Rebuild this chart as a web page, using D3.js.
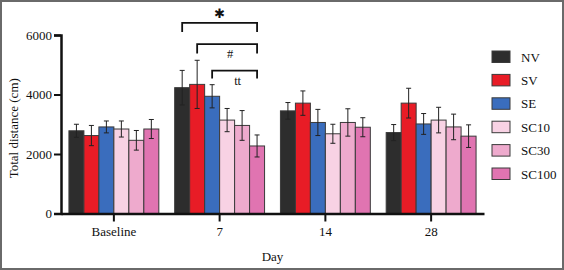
<html>
<head>
    <script src="https://d3js.org/d3.v7.min.js"></script>
    <style>
        body { margin: 0; background: #fff; }
        text { font-family: "Liberation Serif", "Times New Roman", serif; fill: #111; }
        .tick-label { font-size: 13px; }
        .axis-label { font-size: 13px; }
        .legend text { font-size: 13px; }
    </style>
</head>
<body>
    <svg id="chart"></svg>

    <script>
        const days = ["Baseline", "7", "14", "28"];
        const groups = ["NV", "SV", "SE", "SC10", "SC30", "SC100"];
        const colors = ["#2d2d2d", "#e81c26", "#3a6dbd", "#f8d2e4", "#eeaacd", "#e074b1"];

        // mean per group, one row per day
        const means = [
            [2780, 2620, 2910, 2840, 2460, 2840],
            [4230, 4340, 3940, 3140, 2960, 2270],
            [3450, 3710, 3060, 2680, 3060, 2900],
            [2720, 3710, 3010, 3140, 2910, 2600]
        ];
        const errors = [
            [220, 340, 200, 270, 330, 320],
            [580, 810, 390, 390, 500, 370],
            [280, 410, 440, 320, 460, 320],
            [270, 500, 350, 430, 430, 380]
        ];
        const yTicks = [0, 2000, 4000, 6000];

        // significance brackets on day 7: from group, to group, height, leg bottom, label
        const brackets = [
            { from: "NV", to: "SC100", top: 6410, leg: 6100, label: "\u2731" },
            { from: "SV", to: "SC100", top: 5690, leg: 5380, label: "#" },
            { from: "SE", to: "SC100", top: 4800, leg: 4540, label: "tt" }
        ];

        const W = 564, H = 270;
        const plot = { left: 61, right: 484, top: 35, bottom: 213.5 };

        const svg = d3.select("#chart")
            .attr("width", W)
            .attr("height", H);

        svg.append("rect")
            .attr("x", 1).attr("y", 1)
            .attr("width", W - 2).attr("height", H - 2)
            .attr("fill", "#fff")
            .attr("stroke", "#6a6a6a")
            .attr("stroke-width", 2);

        const x0 = d3.scaleBand()
            .domain(days)
            .range([plot.left, plot.right])
            .paddingInner(0.15)
            .paddingOuter(0.075);

        const x1 = d3.scaleBand()
            .domain(groups)
            .range([0, x0.bandwidth()]);

        const y = d3.scaleLinear()
            .domain([0, 6000])
            .range([plot.bottom, plot.top]);

        const color = d3.scaleOrdinal().domain(groups).range(colors);

        // bars
        const dayG = svg.selectAll(".day")
            .data(days)
            .enter()
            .append("g")
            .attr("class", "day")
            .attr("transform", d => `translate(${x0(d)},0)`);

        dayG.selectAll("rect")
            .data((d, i) => groups.map((g, j) => ({ g, v: means[i][j], e: errors[i][j] })))
            .enter()
            .append("rect")
            .attr("x", d => x1(d.g))
            .attr("y", d => y(d.v))
            .attr("width", x1.bandwidth())
            .attr("height", d => y(0) - y(d.v))
            .attr("fill", d => color(d.g))
            .attr("stroke", "#3a3a3a")
            .attr("stroke-width", 1);

        // error bars
        const err = dayG.selectAll(".err")
            .data((d, i) => groups.map((g, j) => ({ g, v: means[i][j], e: errors[i][j] })))
            .enter()
            .append("g")
            .attr("class", "err")
            .attr("stroke", "#222")
            .attr("stroke-width", 1);

        const cx = d => x1(d.g) + x1.bandwidth() / 2;
        err.append("line")
            .attr("x1", cx).attr("x2", cx)
            .attr("y1", d => y(d.v + d.e)).attr("y2", d => y(d.v - d.e));
        err.append("line")
            .attr("x1", d => cx(d) - 2.5).attr("x2", d => cx(d) + 2.5)
            .attr("y1", d => y(d.v + d.e)).attr("y2", d => y(d.v + d.e));
        err.append("line")
            .attr("x1", d => cx(d) - 2.5).attr("x2", d => cx(d) + 2.5)
            .attr("y1", d => y(d.v - d.e)).attr("y2", d => y(d.v - d.e));

        // axes
        const yAxis = svg.append("g")
            .attr("transform", `translate(${plot.left},0)`)
            .call(d3.axisLeft(y).tickValues(yTicks).tickSize(7).tickPadding(2).tickFormat(d3.format("d")));
        yAxis.select(".domain").attr("stroke", "#111").attr("stroke-width", 2.5);
        yAxis.selectAll(".tick line").attr("stroke", "#111").attr("stroke-width", 2);
        yAxis.selectAll(".tick text").attr("class", "tick-label").attr("fill", "#111")
            .style("font-family", "Liberation Serif, serif").style("font-size", "13px");

        const xAxis = svg.append("g")
            .attr("transform", `translate(0,${plot.bottom})`)
            .call(d3.axisBottom(x0).tickSize(8).tickSizeOuter(0).tickPadding(5));
        xAxis.select(".domain").attr("stroke", "#111").attr("stroke-width", 2.5);
        xAxis.selectAll(".tick line").attr("stroke", "#111").attr("stroke-width", 2);
        xAxis.selectAll(".tick text").attr("fill", "#111")
            .style("font-family", "Liberation Serif, serif").style("font-size", "13px");

        svg.append("text")
            .attr("class", "axis-label")
            .attr("text-anchor", "middle")
            .attr("transform", `translate(18,${(plot.top + plot.bottom) / 2 + 4})rotate(-90)`)
            .text("Total distance (cm)");

        svg.append("text")
            .attr("class", "axis-label")
            .attr("text-anchor", "middle")
            .attr("x", (plot.left + plot.right) / 2)
            .attr("y", 261)
            .text("Day");

        // significance brackets
        const d7 = x0("7");
        const bx = g => d7 + x1(g) + x1.bandwidth() / 2;
        const br = svg.selectAll(".bracket")
            .data(brackets)
            .enter()
            .append("g")
            .attr("class", "bracket");

        br.append("path")
            .attr("d", d => `M${bx(d.from)},${y(d.leg)}V${y(d.top)}H${bx(d.to)}V${y(d.leg)}`)
            .attr("fill", "none")
            .attr("stroke", "#111")
            .attr("stroke-width", 1.8);

        br.append("text")
            .attr("text-anchor", "middle")
            .attr("x", d => d.label === "\u2731" ? (bx(d.from) + bx(d.to)) / 2 : (bx(d.from) + bx(d.to)) / 2 + 3)
            .attr("y", d => d.label === "\u2731" ? y(d.top) - 5 : y(d.top) + 14)
            .style("font-size", d => d.label === "\u2731" ? "13px" : "12.5px")
            .style("font-family", d => d.label === "\u2731" ? "DejaVu Sans, sans-serif" : "Liberation Serif, serif")
            .style("font-weight", d => d.label === "\u2731" ? "bold" : "normal")
            .attr("fill", d => d.label === "\u2731" ? "#111" : "#333")
            .text(d => d.label);

        // legend
        const legend = svg.append("g")
            .attr("class", "legend")
            .attr("transform", "translate(492,51)");

        const item = legend.selectAll("g")
            .data(groups)
            .enter()
            .append("g")
            .attr("transform", (d, i) => `translate(0,${i * 23.4})`);

        item.append("rect")
            .attr("width", 18)
            .attr("height", 11.5)
            .attr("fill", d => color(d))
            .attr("stroke", "#3a3a3a")
            .attr("stroke-width", 1);

        item.append("text")
            .attr("x", 29)
            .attr("y", 10.5)
            .text(d => d);
    </script>
</body>
</html>
